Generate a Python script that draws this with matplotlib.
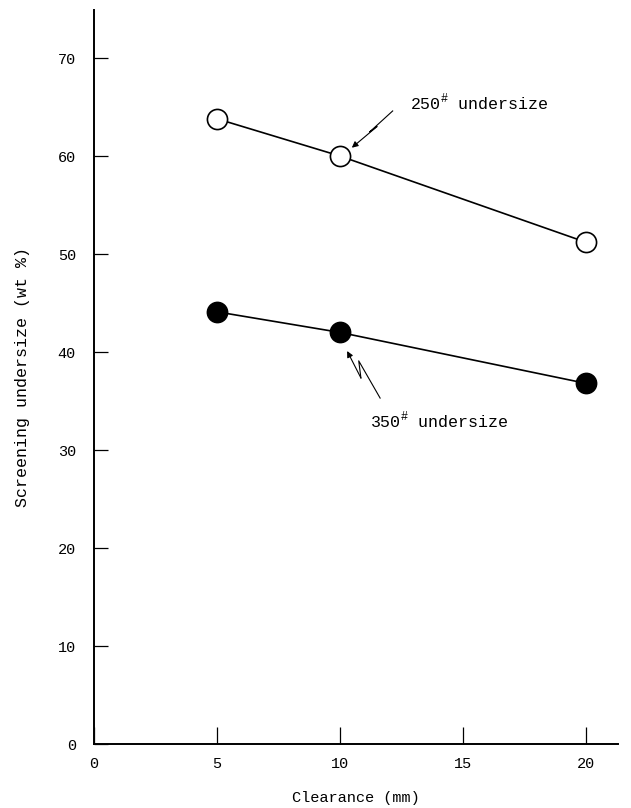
import numpy as np
import matplotlib.pyplot as plt

plt.rcParams['font.family'] = ['Liberation Mono', 'DejaVu Sans']
plt.rcParams['mathtext.fontset'] = 'custom'
plt.rcParams['mathtext.rm'] = 'Liberation Mono'

# data
clearance = [5, 10, 20]          # mm
under_250 = [63.8, 60.0, 51.2]   # wt %
under_350 = [44.1, 42.0, 36.8]   # wt %

xticks = [0, 5, 10, 15, 20]
yticks = [0, 10, 20, 30, 40, 50, 60, 70]

# zig-zag leader lines (data coords), text end first, arrow tip last
lead_250 = [(12.14, 64.6), (11.2, 62.45), (11.5, 63.0), (10.48, 60.85)]
lead_350 = [(11.63, 35.3), (10.76, 39.1), (10.85, 37.35), (10.29, 40.1)]

fig = plt.figure(figsize=(6.31, 8.08), dpi=100)
ax = fig.add_axes([0.149, 0.0792, 0.8304, 0.9084])

ax.plot(clearance, under_250, color='black', lw=1.2, marker='o', ms=14.5,
        mfc='white', mec='black', mew=1.2, zorder=3)
ax.plot(clearance, under_350, color='black', lw=1.2, marker='o', ms=14.5,
        mfc='black', mec='black', mew=1.2, zorder=3)

for lead in (lead_250, lead_350):
    xs = [p[0] for p in lead[:-1]]
    ys = [p[1] for p in lead[:-1]]
    ax.plot(xs, ys, color='black', lw=0.8)
    ax.annotate('', xy=lead[-1], xytext=lead[-2],
                arrowprops=dict(arrowstyle='-|>', color='black', lw=0.8,
                                mutation_scale=9, shrinkA=0, shrinkB=0))

ax.text(12.85, 65.5, r'250$^{\#}$ undersize', fontsize=12, va='center', ha='left')
ax.text(11.22, 33.06, r'350$^{\#}$ undersize', fontsize=12, va='center', ha='left')

ax.set_xlim(0, 21.3)
ax.set_ylim(0, 74.9)
ax.set_xticks(xticks)
ax.set_yticks(yticks)
ax.tick_params(axis='both', direction='in', width=0.9, labelsize=11)
ax.tick_params(axis='y', length=10, pad=13)
ax.tick_params(axis='x', length=12, pad=9)

for s in ('top', 'right'):
    ax.spines[s].set_visible(False)
for s in ('left', 'bottom'):
    ax.spines[s].set_linewidth(1.4)

ax.set_xlabel('Clearance (mm)', fontsize=11, labelpad=15)
ax.set_ylabel('Screening undersize (wt %)', fontsize=12, labelpad=20)

fig.savefig('out.png', dpi=100)
